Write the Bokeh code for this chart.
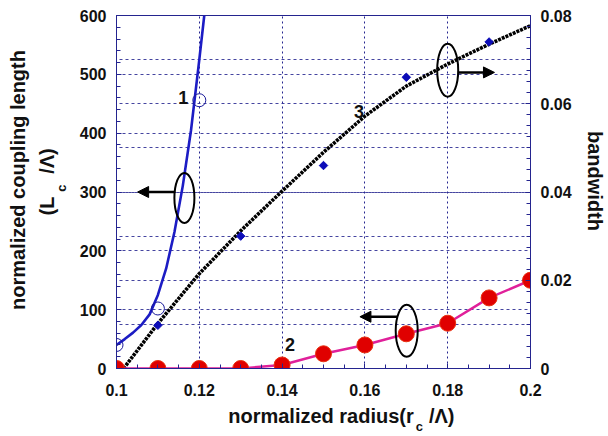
import math
from bokeh.plotting import figure
from bokeh.models import Range1d, LinearAxis, FixedTicker, Grid, Label, Arrow, NormalHead
from bokeh.embed import file_html
from bokeh.resources import INLINE

# ---------------- data ----------------
# curve 1: normalized coupling length (open circles + fitted blue curve)
r_open = [0.10, 0.11, 0.12]
lc_open = [40, 102, 456]
r_fit1 = [0.100, 0.102, 0.104, 0.106, 0.108, 0.110, 0.112, 0.114, 0.116, 0.118, 0.120, 0.1212]
lc_fit1 = [40, 50, 61, 74, 92, 125, 170, 232, 310, 405, 525, 600]

# curve 2: normalized coupling length (red dots + magenta line)
r2 = [0.10, 0.11, 0.12, 0.13, 0.14, 0.15, 0.16, 0.17, 0.18, 0.19, 0.20]
lc2 = [0, 0, 0, 0, 6, 25, 40, 59, 77, 120, 150]

# curve 3: bandwidth (black beaded line + blue diamonds)
r3 = [0.1017, 0.11, 0.12, 0.13, 0.14, 0.15, 0.16, 0.17, 0.18, 0.19, 0.20]
bw3 = [0.0, 0.0102, 0.0215, 0.0312, 0.0402, 0.0490, 0.0572, 0.0640, 0.0690, 0.0735, 0.0777]
r_dia = [0.11, 0.13, 0.15, 0.17, 0.19]
bw_dia = [0.0098, 0.030, 0.046, 0.066, 0.0740]

# ticks
x_ticks = [0.10, 0.12, 0.14, 0.16, 0.18, 0.20]
x_tick_labels = ["0.1", "0.12", "0.14", "0.16", "0.18", "0.2"]
x_minor = [0.1 + 0.005 * i for i in range(21)]
lc_ticks = [0, 100, 200, 300, 400, 500, 600]
lc_minor = [20 * i for i in range(31)]
bw_ticks = [0.0, 0.02, 0.04, 0.06, 0.08]
bw_tick_labels = ["0", "0.02", "0.04", "0.06", "0.08"]
bw_minor = [0.0025 * i for i in range(33)]
bw_grid = [0.01, 0.02, 0.03, 0.04, 0.05, 0.06, 0.07]

# axis titles (text pieces; subscript pieces separate)
x_title = ["normalized radius(r", "/\u039b)"]
x_title_sub = ["c"]
y_title = ["normalized coupling length"]
y_title2 = ["(L", "/\u039b)"]
y_title2_sub = ["c"]
y2_title = ["bandwidth"]

# annotations (curve numbers) in data coords
num_text = ["1", "2", "3"]
num_x = [0.1161, 0.1419, 0.1586]
num_y = [461, 41, 436]

NAVY = "#24248f"
FONT = "Liberation Sans"

p = figure(width=608, height=436, x_range=Range1d(0.1, 0.2), y_range=Range1d(0, 600),
           output_backend="svg", toolbar_location=None,
           min_border_left=116, min_border_right=77, min_border_top=15, min_border_bottom=67)
p.extra_y_ranges = {"bw": Range1d(0, 0.08), "py": Range1d(369, 15)}
p.extra_x_ranges = {"px": Range1d(116, 531)}
p.background_fill_color = "white"
p.border_fill_color = "white"
p.outline_line_color = NAVY
p.outline_line_width = 1

right = LinearAxis(y_range_name="bw")
p.add_layout(right, "right")

xa = p.xaxis[0]
ya = p.yaxis[0]
xa.ticker = FixedTicker(ticks=x_ticks, minor_ticks=x_minor)
xa.major_label_overrides = {t: l for t, l in zip(x_ticks, x_tick_labels)}
ya.ticker = FixedTicker(ticks=lc_ticks, minor_ticks=lc_minor)
right.ticker = FixedTicker(ticks=bw_ticks, minor_ticks=bw_minor)
right.major_label_overrides = {t: l for t, l in zip(bw_ticks, bw_tick_labels)}

for ax in (xa, ya, right):
    ax.axis_line_color = NAVY
    ax.major_tick_line_color = NAVY
    ax.minor_tick_line_color = NAVY
    ax.major_tick_in = 5
    ax.major_tick_out = 0
    ax.minor_tick_in = 4
    ax.minor_tick_out = 0
    ax.major_label_text_font = FONT
    ax.major_label_text_font_style = "bold"
    ax.major_label_text_font_size = "16px"
    ax.major_label_text_color = "#111111"
xa.major_label_standoff = 15
ya.major_label_standoff = 10
right.major_label_standoff = 10


# axis titles drawn as label rows of extra axes (positions in pixel ranges)
def title_axis(side, texts, pos, size, standoff, rng):
    kw = {"x_range_name": rng} if side == "below" else {"y_range_name": rng}
    ax = LinearAxis(ticker=FixedTicker(ticks=pos), **kw)
    ax.major_label_overrides = {t: s for t, s in zip(pos, texts)}
    ax.axis_line_color = None
    ax.major_tick_line_color = None
    ax.minor_tick_line_color = None
    ax.major_tick_in = 0
    ax.major_tick_out = 0
    ax.minor_tick_in = 0
    ax.minor_tick_out = 0
    ax.major_label_text_font = FONT
    ax.major_label_text_font_style = "bold"
    ax.major_label_text_font_size = size
    ax.major_label_text_color = "#111111"
    ax.major_label_standoff = standoff
    if side != "below":
        ax.major_label_orientation = "parallel"
    p.add_layout(ax, side)


title_axis("below", x_title, [321.0, 442.0], "20px", 6, "px")
title_axis("below", x_title_sub, [419.5], "13px", -11, "px")

title_axis("left", y_title2_sub, [188.0], "13px", 7, "py")
title_axis("left", y_title2, [206.0, 161.0], "20px", -7, "py")
title_axis("left", y_title, [180.0], "20px", 4, "py")

title_axis("right", y2_title, [181.0], "20px", 9, "py")

# grids
p.xgrid.ticker = FixedTicker(ticks=x_ticks)
p.xgrid.grid_line_color = NAVY
p.xgrid.grid_line_dash = "2 3"
p.xgrid.grid_line_width = 1
p.ygrid.ticker = FixedTicker(ticks=lc_ticks)
p.ygrid.grid_line_color = NAVY
p.ygrid.grid_line_dash = "3 3"
p.ygrid.grid_line_width = 1
p.ygrid.grid_line_alpha = 0.85
g2 = Grid(dimension=1, ticker=FixedTicker(ticks=bw_grid), y_range_name="bw",
          grid_line_color=NAVY, grid_line_dash="3 3", grid_line_dash_offset=3, grid_line_width=1,
          grid_line_alpha=0.85)
p.add_layout(g2)

# curve 3 (bandwidth)
p.line(r3, bw3, y_range_name="bw", line_color="#000000", line_width=3.6, line_dash="3 1")
p.scatter(r_dia, bw_dia, y_range_name="bw", marker="square", size=6, angle=math.pi / 4,
          fill_color="#0c0cb8", line_color="#0c0cb8")

# curve 1
p.line(r_fit1, lc_fit1, line_color="#1c1cc4", line_width=2.6)
p.scatter(r_open, lc_open, marker="circle", size=13, fill_color=None, line_color="#1a1a9a", line_width=1)

# curve 2
p.line(r2, lc2, line_color="#e0209a", line_width=2.5)
p.scatter(r2, lc2, marker="circle", size=16, fill_color="#e00000", line_color="#e83010", line_width=1)

# ellipses
p.ellipse(x=[0.1164], y=[290], width=20, height=50, width_units="screen", height_units="screen",
          fill_color=None, line_color="black", line_width=2)
p.ellipse(x=[0.1701], y=[64], width=22, height=52, width_units="screen", height_units="screen",
          fill_color=None, line_color="black", line_width=2)
p.ellipse(x=[0.18], y=[0.0676], y_range_name="bw", width=21, height=53, width_units="screen",
          height_units="screen", fill_color=None, line_color="black", line_width=2)

# arrows
def head():
    return NormalHead(size=11, fill_color="black", line_color="black", line_width=1)
p.add_layout(Arrow(end=head(), x_start=0.1142, y_start=300, x_end=0.1051, y_end=300,
                   line_color="black", line_width=2.5))
p.add_layout(Arrow(end=head(), x_start=0.1680, y_start=88, x_end=0.1588, y_end=88,
                   line_color="black", line_width=2.5))
p.add_layout(Arrow(end=head(), x_start=0.1827, y_start=0.0671, x_end=0.1913, y_end=0.0671,
                   y_range_name="bw", line_color="black", line_width=2.5))

# curve numbers
for t, x, y in zip(num_text, num_x, num_y):
    p.add_layout(Label(x=x, y=y, text=t, text_font=FONT, text_font_style="bold",
                       text_font_size="18px", text_align="center", text_baseline="middle",
                       text_color="#111111"))

open("out.html", "w").write(file_html(p, INLINE))
